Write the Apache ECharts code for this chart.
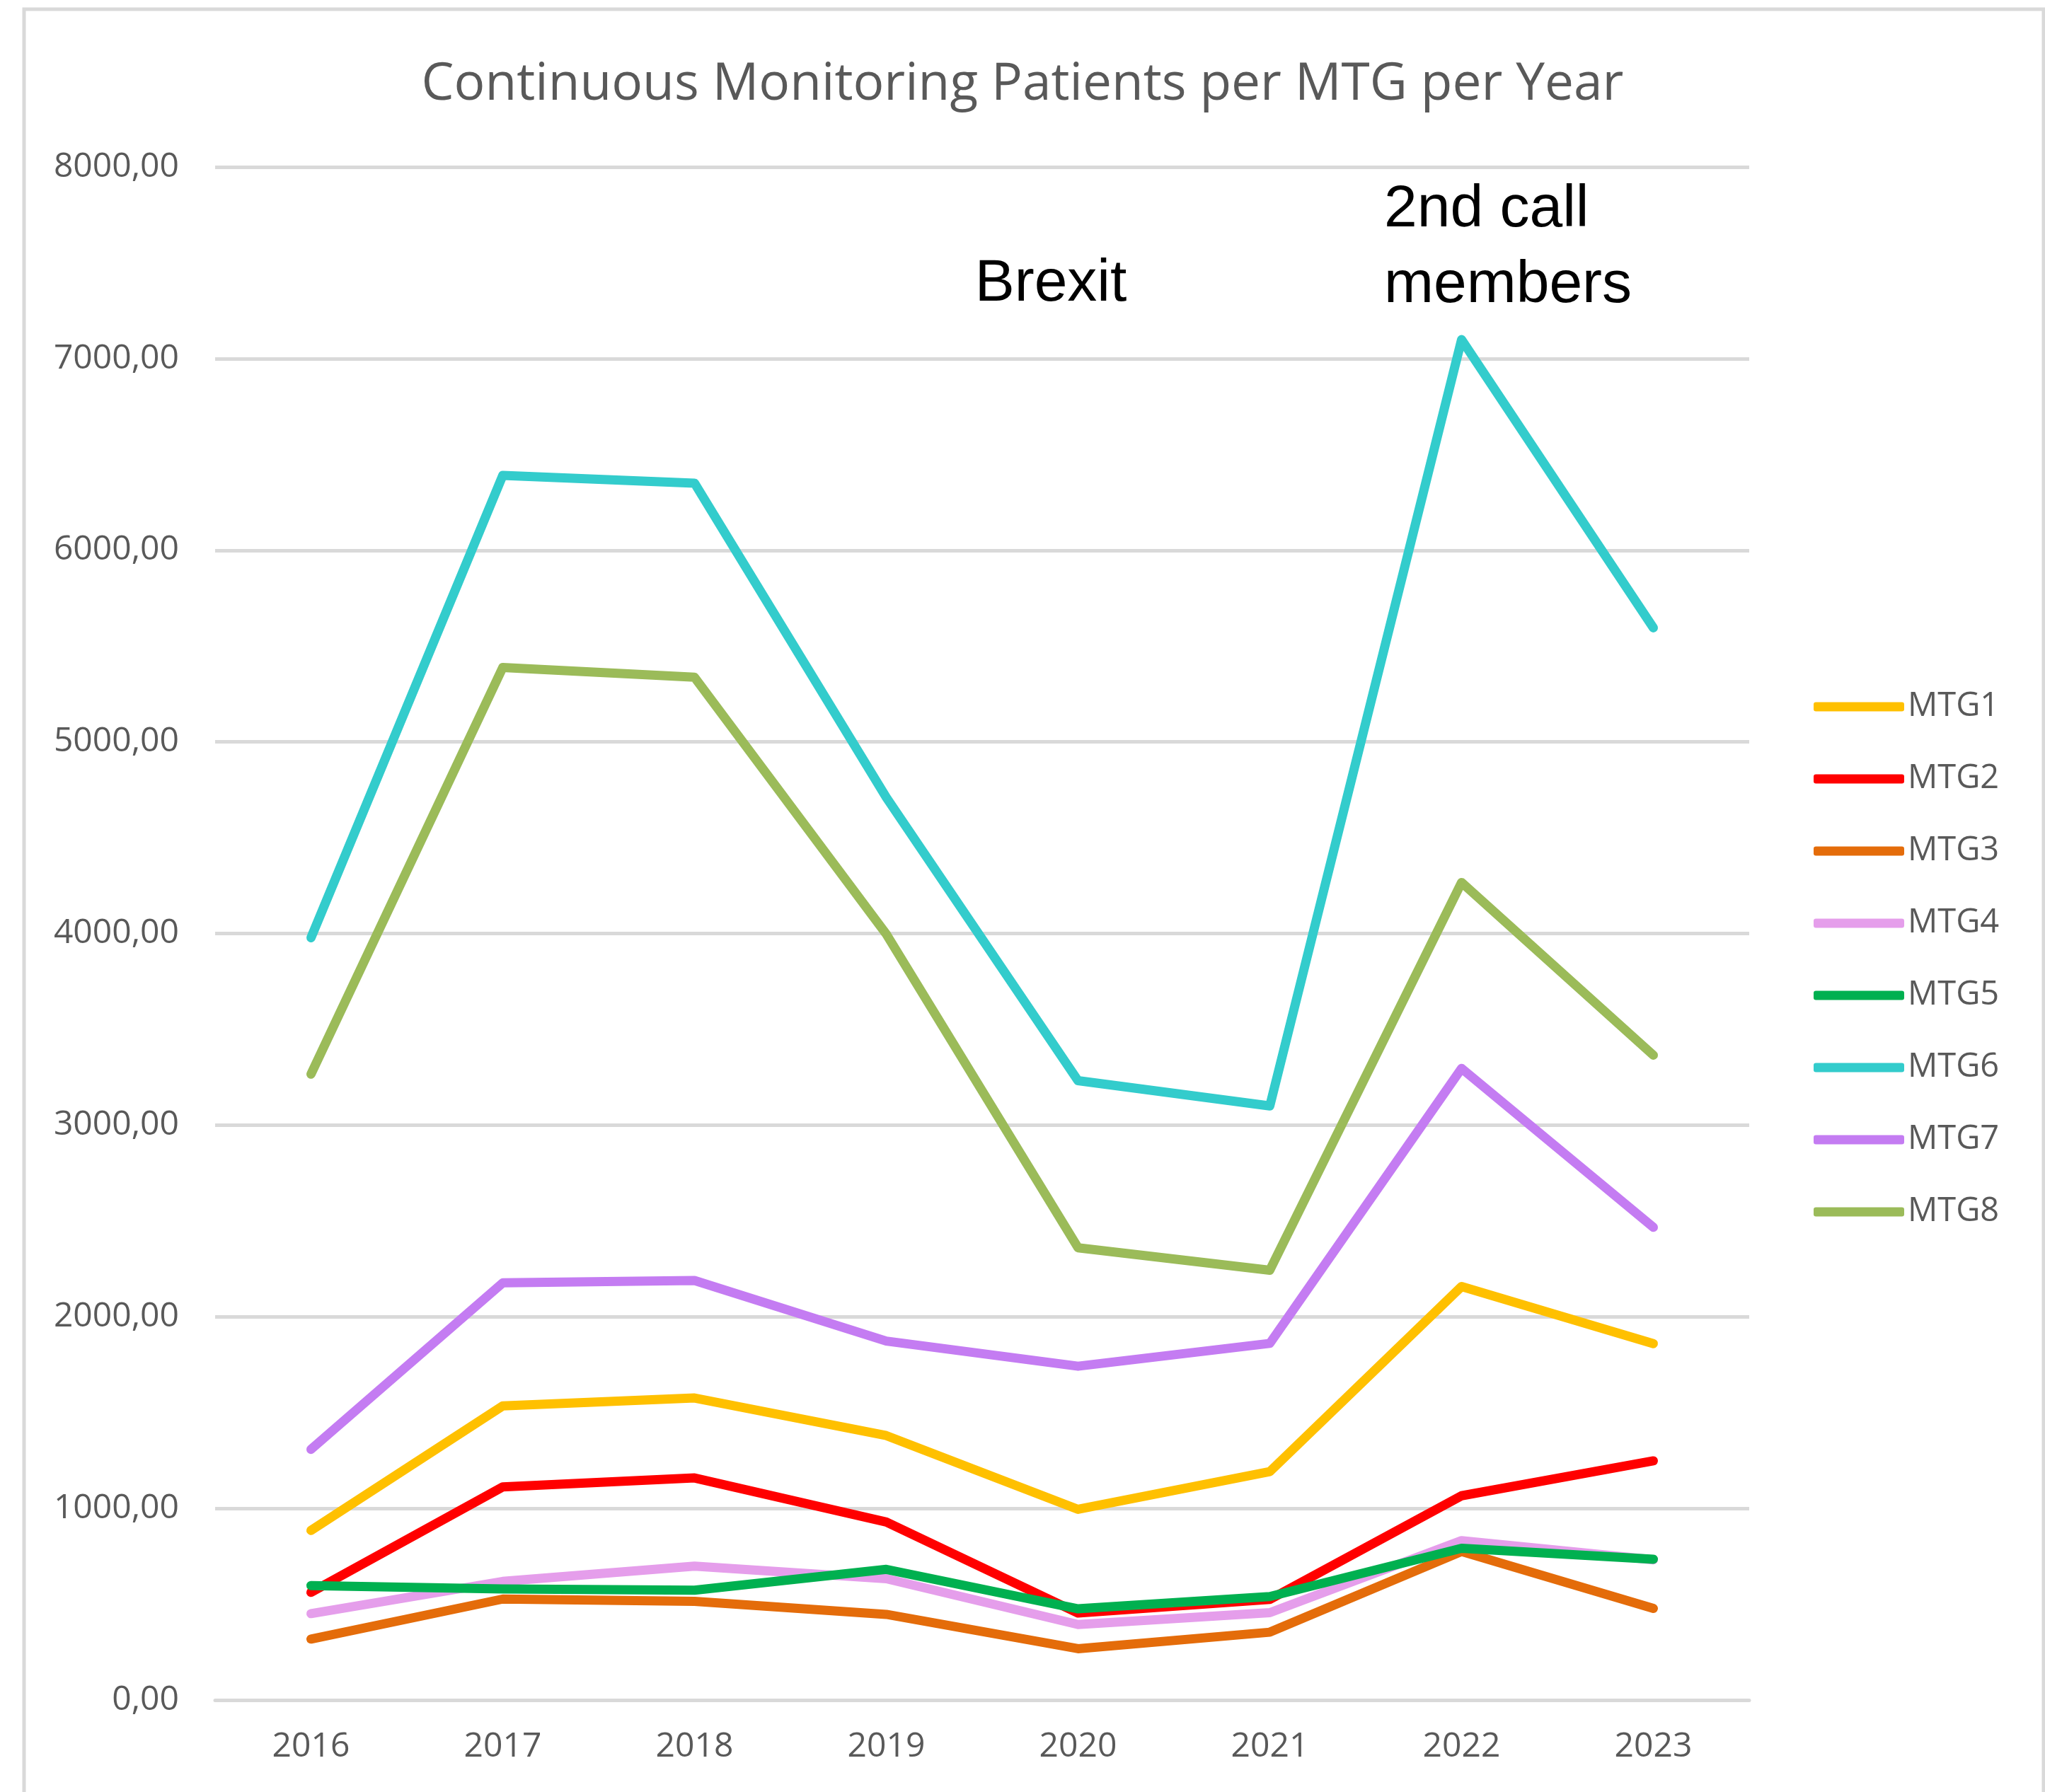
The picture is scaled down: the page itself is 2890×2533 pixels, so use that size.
<!DOCTYPE html>
<html>
<head>
<meta charset="utf-8">
<title>Continuous Monitoring Patients per MTG per Year</title>
<script src="https://cdn.jsdelivr.net/npm/echarts@6/dist/echarts.min.js"></script>
<style>
  html, body { margin: 0; padding: 0; background: #fff; }
  #chart { width: 2890px; height: 2533px; }
</style>
</head>
<body>
<div id="chart"></div>
<script>
  // data
  var years = ['2016', '2017', '2018', '2019', '2020', '2021', '2022', '2023'];
  var seriesNames = ['MTG1', 'MTG2', 'MTG3', 'MTG4', 'MTG5', 'MTG6', 'MTG7', 'MTG8'];
  var colors = ['#ffc000', '#ff0000', '#e46c0a', '#e59eeb', '#00b050', '#33cccc', '#c47cf2', '#9bbb59'];

  var mtg1 = [885, 1535, 1576, 1380, 995, 1192, 2158, 1860];
  var mtg2 = [562, 1112, 1159, 929, 454, 525, 1066, 1248];
  var mtg3 = [318, 527, 515, 447, 268, 354, 775, 478];
  var mtg4 = [451, 619, 699, 633, 394, 456, 832, 732];
  var mtg5 = [597, 580, 573, 682, 476, 540, 792, 735];
  var mtg6 = [3978, 6390, 6350, 4710, 3232, 3100, 7099, 5595];
  var mtg7 = [1308, 2177, 2189, 1873, 1742, 1861, 3296, 2467];
  var mtg8 = [3266, 5388, 5337, 3997, 2360, 2243, 4266, 3365];

  var yTicks = { min: 0, max: 8000, interval: 1000 };

  var allData = [mtg1, mtg2, mtg3, mtg4, mtg5, mtg6, mtg7, mtg8];
  var gray = '#595959';
  var gridGray = '#d9d9d9';

  var series = [];
  for (var i = 0; i < seriesNames.length; i++) {
    series.push({
      name: seriesNames[i],
      type: 'line',
      data: allData[i],
      showSymbol: false,
      symbol: 'none',
      lineStyle: { width: 13, color: colors[i], cap: 'round', join: 'round' },
      itemStyle: { color: colors[i] }
    });
  }

  var myChart = echarts.init(document.getElementById('chart'));
  myChart.setOption({
    animation: false,
    color: colors,
    title: {
      text: 'Continuous Monitoring Patients per MTG per Year',
      left: 'center',
      top: 78,
      textStyle: {
        color: gray,
        fontFamily: 'Open Sans',
        fontWeight: 'normal',
        fontSize: 73,
        lineHeight: 74
      }
    },
    legend: {
      orient: 'vertical',
      left: 2563,
      top: 971,
      padding: 0,
      icon: 'roundRect',
      itemWidth: 128,
      itemHeight: 13,
      itemGap: 46,
      data: seriesNames,
      textStyle: {
        color: gray,
        fontFamily: 'Open Sans',
        fontSize: 47,
        lineHeight: 56
      }
    },
    grid: {
      left: 304,
      right: 418,
      top: 236,
      bottom: 130
    },
    xAxis: {
      type: 'category',
      boundaryGap: true,
      data: years,
      axisTick: { show: false },
      axisLine: { lineStyle: { color: gridGray, width: 5 } },
      axisLabel: {
        color: gray,
        fontFamily: 'Open Sans',
        fontSize: 48,
        margin: 42
      }
    },
    yAxis: {
      type: 'value',
      min: yTicks.min,
      max: yTicks.max,
      interval: yTicks.interval,
      axisLine: { show: false },
      axisTick: { show: false },
      splitLine: { lineStyle: { color: gridGray, width: 5 } },
      axisLabel: {
        color: gray,
        fontFamily: 'Open Sans',
        fontSize: 48,
        margin: 51,
        formatter: function (v) {
          return v.toFixed(2).replace('.', ',');
        }
      }
    },
    graphic: [
      {
        type: 'rect',
        silent: true,
        z: -1,
        shape: { x: 34, y: 13, width: 2854, height: 2600 },
        style: { fill: 'none', stroke: gridGray, lineWidth: 5 }
      },
      {
        type: 'text',
        x: 1485,
        y: 402,
        style: {
          text: 'Brexit',
          fill: '#000',
          font: '84px "Liberation Sans", Arial, sans-serif',
          align: 'center',
          verticalAlign: 'middle'
        }
      },
      {
        type: 'text',
        x: 1956,
        y: 350,
        style: {
          text: '2nd call\nmembers',
          fill: '#000',
          font: '84px "Liberation Sans", Arial, sans-serif',
          lineHeight: 107,
          align: 'left',
          verticalAlign: 'middle'
        }
      }
    ],
    series: series
  });
</script>
</body>
</html>
